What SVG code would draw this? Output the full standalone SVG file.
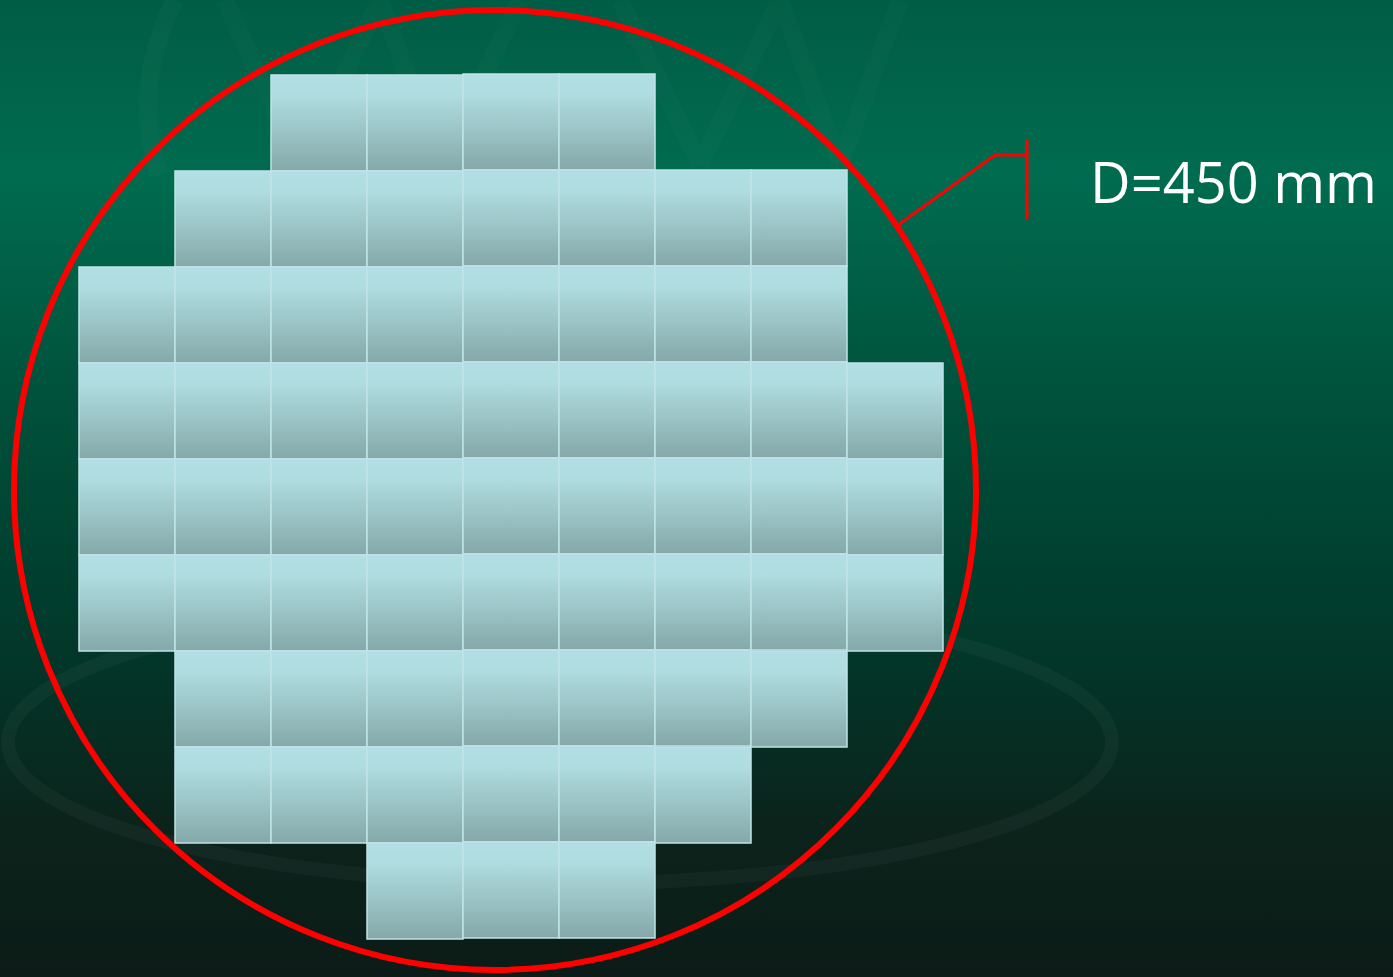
<svg xmlns="http://www.w3.org/2000/svg" width="1393" height="977" viewBox="0 0 1393 977">
  <defs>
    <linearGradient id="bg" x1="0" y1="0" x2="0" y2="1">
      <stop offset="0" stop-color="#005d45"/>
      <stop offset="0.18" stop-color="#006c4f"/>
      <stop offset="0.4" stop-color="#00523c"/>
      <stop offset="0.62" stop-color="#003c2d"/>
      <stop offset="0.85" stop-color="#0b231b"/>
      <stop offset="1" stop-color="#0c1b17"/>
    </linearGradient>
    <linearGradient id="tile" x1="0" y1="0" x2="0" y2="1">
      <stop offset="0" stop-color="#b1dfe3"/>
      <stop offset="0.22" stop-color="#aedcdf"/>
      <stop offset="1" stop-color="#85a8a9"/>
    </linearGradient>
    <style>
      .t { fill: url(#tile); stroke: #c1e3e6; stroke-width: 1.5; }
      .red { fill: none; stroke: #ff0000; }
      .lbl { font-family: "Open Sans", "Liberation Sans", sans-serif; font-size: 56px; fill: #ffffff; }
      .wm { fill: none; stroke: #ffffff; }
    </style>
  </defs>
  <rect x="0" y="0" width="1393" height="977" fill="url(#bg)"/>
  <g id="watermark">
    <ellipse class="wm" cx="560" cy="742" rx="552" ry="142" stroke-width="14" stroke-opacity="0.035"/>
    <path class="wm" d="M175 0 Q130 90 160 175" stroke-width="18" stroke-opacity="0.02"/>
    <path class="wm" d="M225 0 L300 165 M380 0 L300 165 M380 0 L440 165 M520 0 L440 165" stroke-width="18" stroke-opacity="0.015"/>
    <path class="wm" d="M620 0 L700 165 M780 0 L700 165 M780 0 L840 165 M900 0 L840 165" stroke-width="18" stroke-opacity="0.015"/>
  </g>
  <g id="tiles">
    <g id="row0">
      <rect class="t" x="271" y="75" width="96" height="96"/>
      <rect class="t" x="367" y="75" width="96" height="96"/>
      <rect class="t" x="463" y="74" width="96" height="96"/>
      <rect class="t" x="559" y="74" width="96" height="96"/>
    </g>
    <g id="row1">
      <rect class="t" x="175" y="171" width="96" height="96"/>
      <rect class="t" x="271" y="171" width="96" height="96"/>
      <rect class="t" x="367" y="171" width="96" height="96"/>
      <rect class="t" x="463" y="170" width="96" height="96"/>
      <rect class="t" x="559" y="170" width="96" height="96"/>
      <rect class="t" x="655" y="170" width="96" height="96"/>
      <rect class="t" x="751" y="170" width="96" height="96"/>
    </g>
    <g id="row2">
      <rect class="t" x="79" y="267" width="96" height="96"/>
      <rect class="t" x="175" y="267" width="96" height="96"/>
      <rect class="t" x="271" y="267" width="96" height="96"/>
      <rect class="t" x="367" y="267" width="96" height="96"/>
      <rect class="t" x="463" y="266" width="96" height="96"/>
      <rect class="t" x="559" y="266" width="96" height="96"/>
      <rect class="t" x="655" y="266" width="96" height="96"/>
      <rect class="t" x="751" y="266" width="96" height="96"/>
    </g>
    <g id="row3">
      <rect class="t" x="79" y="363" width="96" height="96"/>
      <rect class="t" x="175" y="363" width="96" height="96"/>
      <rect class="t" x="271" y="363" width="96" height="96"/>
      <rect class="t" x="367" y="363" width="96" height="96"/>
      <rect class="t" x="463" y="362" width="96" height="96"/>
      <rect class="t" x="559" y="362" width="96" height="96"/>
      <rect class="t" x="655" y="362" width="96" height="96"/>
      <rect class="t" x="751" y="362" width="96" height="96"/>
      <rect class="t" x="847" y="363" width="96" height="96"/>
    </g>
    <g id="row4">
      <rect class="t" x="79" y="459" width="96" height="96"/>
      <rect class="t" x="175" y="459" width="96" height="96"/>
      <rect class="t" x="271" y="459" width="96" height="96"/>
      <rect class="t" x="367" y="459" width="96" height="96"/>
      <rect class="t" x="463" y="458" width="96" height="96"/>
      <rect class="t" x="559" y="458" width="96" height="96"/>
      <rect class="t" x="655" y="458" width="96" height="96"/>
      <rect class="t" x="751" y="458" width="96" height="96"/>
      <rect class="t" x="847" y="459" width="96" height="96"/>
    </g>
    <g id="row5">
      <rect class="t" x="79" y="555" width="96" height="96"/>
      <rect class="t" x="175" y="555" width="96" height="96"/>
      <rect class="t" x="271" y="555" width="96" height="96"/>
      <rect class="t" x="367" y="555" width="96" height="96"/>
      <rect class="t" x="463" y="554" width="96" height="96"/>
      <rect class="t" x="559" y="554" width="96" height="96"/>
      <rect class="t" x="655" y="554" width="96" height="96"/>
      <rect class="t" x="751" y="554" width="96" height="96"/>
      <rect class="t" x="847" y="555" width="96" height="96"/>
    </g>
    <g id="row6">
      <rect class="t" x="175" y="651" width="96" height="96"/>
      <rect class="t" x="271" y="651" width="96" height="96"/>
      <rect class="t" x="367" y="651" width="96" height="96"/>
      <rect class="t" x="463" y="650" width="96" height="96"/>
      <rect class="t" x="559" y="650" width="96" height="96"/>
      <rect class="t" x="655" y="650" width="96" height="96"/>
      <rect class="t" x="751" y="651" width="96" height="96"/>
    </g>
    <g id="row7">
      <rect class="t" x="175" y="747" width="96" height="96"/>
      <rect class="t" x="271" y="747" width="96" height="96"/>
      <rect class="t" x="367" y="747" width="96" height="96"/>
      <rect class="t" x="463" y="746" width="96" height="96"/>
      <rect class="t" x="559" y="746" width="96" height="96"/>
      <rect class="t" x="655" y="747" width="96" height="96"/>
    </g>
    <g id="row8">
      <rect class="t" x="367" y="843" width="96" height="96"/>
      <rect class="t" x="463" y="842" width="96" height="96"/>
      <rect class="t" x="559" y="842" width="96" height="96"/>
    </g>
  </g>
  <g id="wafer">
    <ellipse class="red" cx="495" cy="490" rx="481" ry="480" stroke-width="6"/>
  </g>
  <g id="connectors">
    <polyline class="red" points="898,225 995,155 1027,155" stroke-width="3"/>
    <line class="red" x1="1027" y1="139" x2="1027" y2="219" stroke-width="3"/>
  </g>
  <g id="label">
    <text class="lbl" x="1090" y="203">D=450 mm</text>
  </g>
</svg>
